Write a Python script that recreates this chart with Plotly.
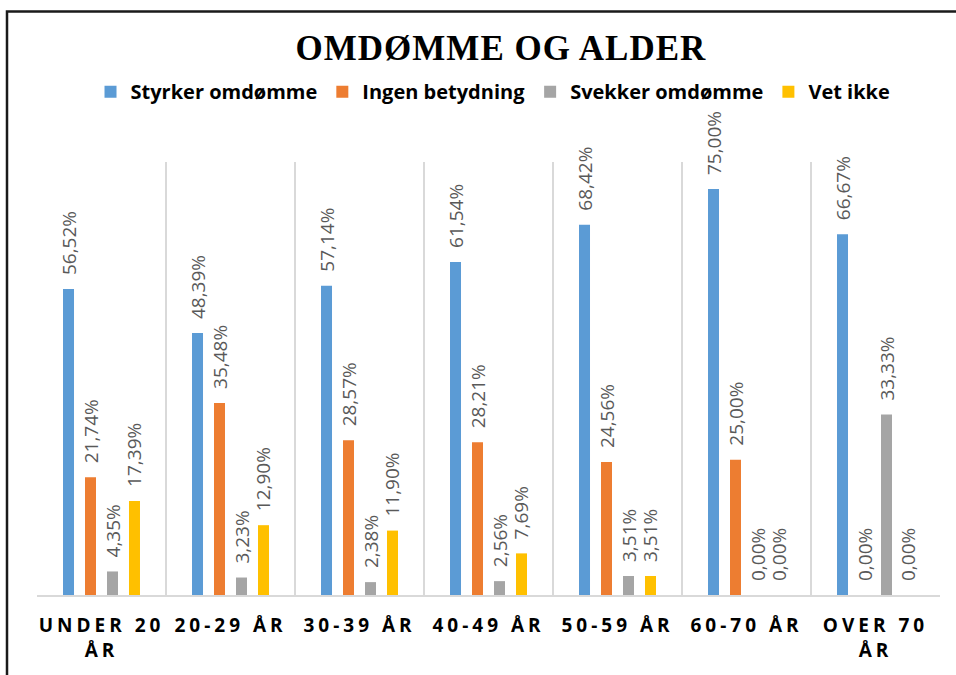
import plotly.graph_objects as go

categories = ["UNDER 20<br>ÅR", "20-29 ÅR", "30-39 ÅR", "40-49 ÅR", "50-59 ÅR", "60-70 ÅR", "OVER 70<br>ÅR"]
series_names = ["Styrker omdømme", "Ingen betydning", "Svekker omdømme", "Vet ikke"]
styrker = [56.52, 48.39, 57.14, 61.54, 68.42, 75.00, 66.67]
ingen = [21.74, 35.48, 28.57, 28.21, 24.56, 25.00, 0.00]
svekker = [4.35, 3.23, 2.38, 2.56, 3.51, 0.00, 33.33]
vet_ikke = [17.39, 12.90, 11.90, 7.69, 3.51, 0.00, 0.00]
colors = ["#5B9BD5", "#ED7D31", "#A5A5A5", "#FFC000"]

def fmt(v):
    return f"{v:.2f}%".replace(".", ",")

fig = go.Figure()
for name, vals, col in zip(series_names, [styrker, ingen, svekker, vet_ikke], colors):
    fig.add_trace(go.Bar(
        name=name, x=categories, y=vals,
        marker=dict(color=col, line=dict(width=0)),
        text=[fmt(v) for v in vals], textposition="outside", textangle=-90,
        constraintext="none", cliponaxis=False,
        textfont=dict(family="Open Sans", size=19, color="#595959"),
        hoverinfo="skip",
    ))

fig.update_layout(
    width=956, height=675,
    margin=dict(l=37, r=16, t=162, b=76),
    paper_bgcolor="white", plot_bgcolor="white",
    barmode="group", bargap=0.318, bargroupgap=0.5,
    title=dict(text="<b>OMDØMME OG ALDER</b>", x=0.524, xanchor="center", y=0.93, yanchor="middle",
               font=dict(family="Liberation Serif", size=35, color="black")),
    legend=dict(orientation="h", x=0.505, xanchor="center", y=1.1625, yanchor="middle",
                font=dict(family="Open Sans", size=20, color="black", weight="bold"),
                traceorder="normal", itemclick=False),
    xaxis=dict(type="category", tickson="boundaries", showgrid=True, gridcolor="#d9d9d9", gridwidth=1.5,
               showline=True, linecolor="#d9d9d9", linewidth=2, ticks="", range=[-0.5, 6.5],
               tickfont=dict(family="Open Sans", size=19, color="black", weight="bold"),
               ticklabelstandoff=12),
    yaxis=dict(range=[0, 80], showgrid=False, zeroline=False, showticklabels=False, showline=False),
    shapes=[dict(type="rect", xref="paper", yref="paper",
                 x0=(7 - 37) / 903, x1=(975 - 37) / 903,
                 y0=(599 - 695) / 437, y1=(599 - 10) / 437,
                 line=dict(color="#1a1a1a", width=2.5), fillcolor="rgba(0,0,0,0)", layer="below")],
)

post = (
    "document.body.style.margin='0';document.body.style.overflow='hidden';"
    "document.querySelectorAll('.xtick text').forEach(function(t){t.style.letterSpacing='4px';});"
    "document.querySelectorAll('.gtitle').forEach(function(t){t.style.letterSpacing='1px';});"
    "document.querySelectorAll('text.bartext').forEach(function(t){"
    "var tr=t.getAttribute('transform')||'';t.setAttribute('transform','translate(0,-11) '+tr);});"
)
fig.write_html("out.html", post_script=post, config={"displayModeBar": False})
